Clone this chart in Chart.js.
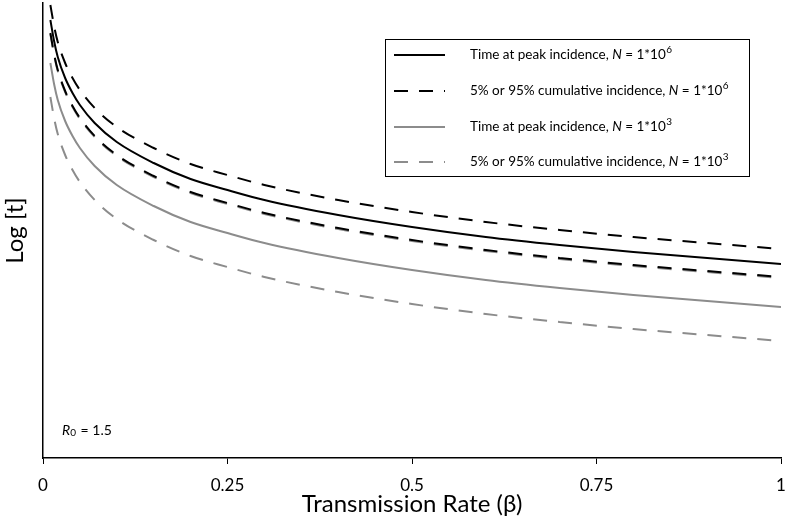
<!DOCTYPE html>
<html>
<head>
    <title>Transmission Rate vs Log [t]</title>
    <script src="https://cdn.jsdelivr.net/npm/chart.js"></script>
    <style>
        html, body { margin: 0; padding: 0; background: #fff; }
        .wrap { width: 787px; height: 522px; position: relative; }
    </style>
</head>
<body>
    <div class="wrap">
        <canvas id="logChart" width="787" height="522"></canvas>
    </div>

    <script>
        // beta values (x)
        const betas = [0.01, 0.015, 0.02, 0.03, 0.04, 0.05, 0.07, 0.1, 0.15, 0.2, 0.25, 0.3, 0.4, 0.5, 0.6, 0.7, 0.8, 0.9, 1.0];

        // log [t] (arbitrary units, axis has no tick labels)
        const peakHigh   = [438, 417, 401, 380, 365, 353, 335, 316, 295, 279, 268, 258, 243, 231, 221, 213, 206, 200, 194];
        const cumHighUp  = [453, 432, 416, 395, 380, 368, 350, 331, 310, 294, 283, 273, 258, 246, 236, 228, 221, 215, 209];
        const cumHighLow = [425, 404, 388, 367, 352, 340, 322, 303, 282, 266, 255, 245, 230, 218, 208, 200, 193, 187, 181];
        const peakLow    = [395, 374, 358, 337, 322, 310, 292, 273, 252, 236, 225, 215, 200, 188, 178, 170, 163, 157, 151];
        const cumLowUp   = [424, 403, 387, 366, 351, 339, 321, 302, 281, 265, 254, 244, 229, 217, 207, 199, 192, 186, 180];
        const cumLowLow  = [361, 340, 324, 303, 288, 276, 258, 239, 218, 202, 191, 181, 166, 154, 144, 136, 129, 123, 117];

        const xTicks = [0, 0.25, 0.5, 0.75, 1];

        const legendItems = [
            { text: 'Time at peak incidence, ', exp: '6', color: '#000', dash: [] },
            { text: '5% or 95% cumulative incidence, ', exp: '6', color: '#000', dash: [14, 11] },
            { text: 'Time at peak incidence, ', exp: '3', color: '#8c8c8c', dash: [] },
            { text: '5% or 95% cumulative incidence, ', exp: '3', color: '#8c8c8c', dash: [14, 11] }
        ];

        const FONT = 'Lato, "Open Sans", sans-serif';
        const BLACK = '#000';
        const GREY = '#8c8c8c';

        function pts(arr) {
            return arr.map((v, i) => ({ x: betas[i], y: v }));
        }

        function line(label, arr, color, dash, order) {
            return {
                label: label,
                data: pts(arr),
                borderColor: color,
                borderWidth: 2,
                borderDash: dash,
                pointRadius: 0,
                fill: false,
                cubicInterpolationMode: 'monotone',
                order: order
            };
        }

        // custom legend + R0 note, drawn on the canvas
        const notes = {
            id: 'notes',
            afterDraw(chart) {
                const ctx = chart.ctx;
                ctx.save();
                // legend box
                ctx.strokeStyle = '#000';
                ctx.lineWidth = 1;
                ctx.strokeRect(385.5, 39.5, 364, 137);

                const rows = [55, 91, 127, 162];
                legendItems.forEach((it, i) => {
                    const y = rows[i];
                    ctx.beginPath();
                    ctx.strokeStyle = it.color;
                    ctx.lineWidth = 2;
                    ctx.setLineDash(it.dash);
                    ctx.moveTo(394, y);
                    ctx.lineTo(445, y);
                    ctx.stroke();
                    ctx.setLineDash([]);

                    ctx.fillStyle = '#000';
                    ctx.textBaseline = 'middle';
                    ctx.textAlign = 'left';
                    ctx.font = '13.5px ' + FONT;
                    let x = 470;
                    ctx.fillText(it.text, x, y);
                    x += ctx.measureText(it.text).width;
                    ctx.font = 'italic 13.5px ' + FONT;
                    ctx.fillText('N', x, y);
                    x += ctx.measureText('N').width;
                    ctx.font = '13.5px ' + FONT;
                    const mid = ' = 1*10';
                    ctx.fillText(mid, x, y);
                    x += ctx.measureText(mid).width;
                    ctx.font = '10px ' + FONT;
                    ctx.fillText(it.exp, x + 0.5, y - 5);
                });

                // R0 note
                ctx.fillStyle = '#000';
                ctx.textBaseline = 'middle';
                ctx.font = 'italic 14px ' + FONT;
                let x = 62;
                const y = 430;
                ctx.fillText('R', x, y);
                x += ctx.measureText('R').width;
                ctx.font = '10px ' + FONT;
                ctx.fillText('0', x, y + 3);
                x += ctx.measureText('0').width + 1;
                ctx.font = '14px ' + FONT;
                ctx.fillText(' = 1.5', x, y);
                ctx.restore();
            }
        };

        const ctx = document.getElementById('logChart').getContext('2d');
        new Chart(ctx, {
            type: 'line',
            data: {
                datasets: [
                    line('Time at peak incidence, N=1*10^6', peakHigh, BLACK, [], 1),
                    line('5% or 95% cumulative incidence, N=1*10^6', cumHighUp, BLACK, [14, 11], 1),
                    line('5% or 95% cumulative incidence, N=1*10^6', cumHighLow, BLACK, [14, 11], 1),
                    line('Time at peak incidence, N=1*10^3', peakLow, GREY, [], 2),
                    line('5% or 95% cumulative incidence, N=1*10^3', cumLowUp, GREY, [14, 11], 2),
                    line('5% or 95% cumulative incidence, N=1*10^3', cumLowLow, GREY, [14, 11], 2)
                ]
            },
            options: {
                responsive: false,
                animation: false,
                layout: { padding: { top: 3, right: 6, left: 0, bottom: 0 } },
                plugins: {
                    legend: { display: false },
                    tooltip: { enabled: false }
                },
                scales: {
                    x: {
                        type: 'linear',
                        min: 0,
                        max: 1,
                        afterBuildTicks: (axis) => { axis.ticks = xTicks.map(v => ({ value: v })); },
                        afterFit: (axis) => { axis.height = 64; axis.paddingLeft = 0; axis.paddingRight = 0; },
                        grid: { display: true, drawOnChartArea: false, drawTicks: true, tickLength: 6, color: '#000', lineWidth: 1 },
                        border: { display: true, color: '#000', width: 1.5 },
                        ticks: { color: '#000', font: { family: FONT, size: 17 }, padding: 11, maxRotation: 0, callback: (v) => String(v) },
                        title: { display: true, text: 'Transmission Rate (β)', color: '#000', font: { family: FONT, size: 24 }, padding: { bottom: 3 } }
                    },
                    y: {
                        min: 0,
                        max: 455,
                        afterFit: (axis) => { axis.width = 43; },
                        grid: { display: false },
                        border: { display: true, color: '#000', width: 1.5 },
                        ticks: { display: false },
                        title: { display: true, text: 'Log [t]', color: '#000', font: { family: FONT, size: 24 }, padding: { top: 1 } }
                    }
                }
            },
            plugins: [notes]
        });
    </script>
</body>
</html>
